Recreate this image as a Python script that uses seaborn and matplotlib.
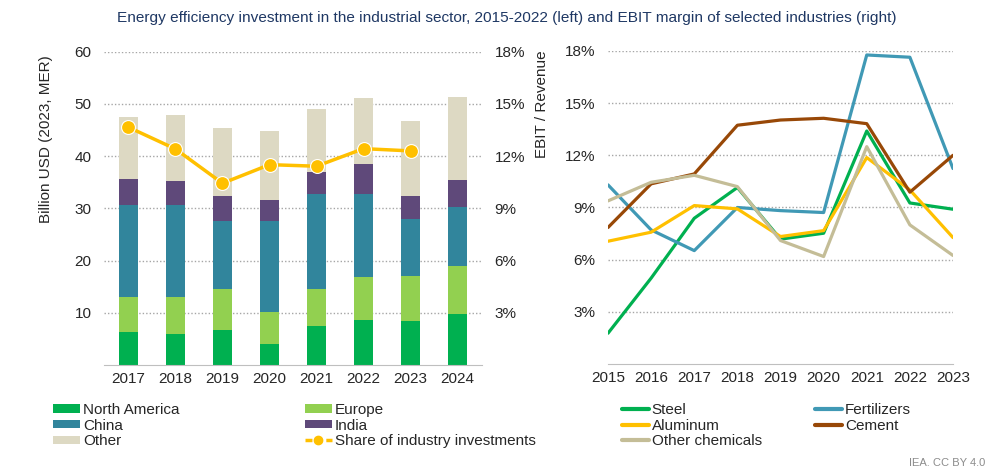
#Import Libraries
import numpy as np
import pandas as pd
import seaborn as sb
import matplotlib
matplotlib.use("Agg")
import matplotlib.pyplot as plt
from matplotlib.patches import Patch
from matplotlib.lines import Line2D
from matplotlib.ticker import FuncFormatter

#Data - left chart (billion USD, 2023 MER)
years = [2017, 2018, 2019, 2020, 2021, 2022, 2023, 2024]
northAmerica = [6.3, 6.0, 6.7, 4.1, 7.4, 8.6, 8.4, 9.7]
europe = [6.7, 7.0, 7.9, 6.1, 7.1, 8.3, 8.6, 9.3]
china = [17.6, 17.6, 13.0, 17.4, 18.3, 15.8, 11.0, 11.3]
india = [5.0, 4.7, 4.7, 4.0, 4.1, 5.7, 4.3, 5.1]
other = [11.9, 12.6, 13.0, 13.3, 12.2, 12.7, 14.5, 16.0]
shareYears = [2017, 2018, 2019, 2020, 2021, 2022, 2023]
shareIndustry = [13.66, 12.41, 10.44, 11.51, 11.42, 12.43, 12.30]

#Data - right chart (EBIT margin, %)
ebitYears = [2015, 2016, 2017, 2018, 2019, 2020, 2021, 2022, 2023]
steel = [1.77, 4.94, 8.38, 10.15, 7.18, 7.52, 13.4, 9.26, 8.9]
fertilizers = [10.3, 7.71, 6.52, 9.0, 8.82, 8.71, 17.77, 17.64, 11.24]
aluminum = [7.06, 7.58, 9.11, 8.92, 7.33, 7.67, 11.87, 10.01, 7.27]
cement = [7.85, 10.36, 10.93, 13.73, 14.03, 14.13, 13.82, 9.88, 12.0]
otherChemicals = [9.38, 10.45, 10.85, 10.2, 7.1, 6.18, 12.5, 8.0, 6.24]

#Colours
barColors = {"North America": "#00b050", "Europe": "#92d050", "China": "#31859c",
             "India": "#5f497a", "Other": "#ddd9c3"}
shareColor = "#ffc000"
lineColors = {"Steel": "#00b050", "Fertilizers": "#4099b5", "Aluminum": "#ffc000",
              "Cement": "#984807", "Other chemicals": "#c4bd97"}

sb.set_style("white")
plt.rcParams["font.family"] = ["Liberation Sans", "DejaVu Sans"]
plt.rcParams["font.size"] = 11
gridColor = "#a6a6a6"

fig = plt.figure(figsize=(10.04, 4.76), dpi=100)

#Left chart - stacked bars (drawn as cumulative totals, biggest first)
ax = fig.add_axes([0.1036, 0.2332, 0.3765, 0.6582])
segments = [("North America", northAmerica), ("Europe", europe), ("China", china),
            ("India", india), ("Other", other)]
cumulative = np.cumsum([s[1] for s in segments], axis=0)
for i in range(len(segments) - 1, -1, -1):
    sb.barplot(x=years, y=cumulative[i], color=barColors[segments[i][0]], width=0.4,
               native_scale=True, errorbar=None, saturation=1, linewidth=0, ax=ax)

ax.set_xlim(2016.48, 2024.52)
ax.set_ylim(0, 60)
ax.set_xticks(years)
ax.set_xticklabels([str(y) for y in years])
ax.set_yticks([10, 20, 30, 40, 50, 60])
ax.yaxis.grid(True, linestyle=(0, (1, 1.5)), color=gridColor, linewidth=1)
ax.set_axisbelow(True)
for side in ["top", "left", "right"]:
    ax.spines[side].set_visible(False)
ax.spines["bottom"].set_color("#bfbfbf")
ax.tick_params(axis="both", length=0)
ax.tick_params(axis="y", pad=9)
ax.tick_params(axis="x", pad=5)
ax.set_ylabel("Billion USD (2023, MER)", fontsize=11)
ax.yaxis.set_label_coords(-0.135, 0.72)

#Share of industry investments on the right axis
ax2 = ax.twinx()
sb.lineplot(x=shareYears, y=shareIndustry, color=shareColor, linewidth=2.5, marker="o",
            markersize=10, markeredgecolor="white", markeredgewidth=0.8, ax=ax2)
ax2.set_ylim(0, 18)
ax2.set_yticks([3, 6, 9, 12, 15, 18])
ax2.yaxis.set_major_formatter(FuncFormatter(lambda v, p: f"{v:.0f}%"))
ax2.tick_params(axis="y", length=0, pad=9)
for side in ["top", "left", "right", "bottom"]:
    ax2.spines[side].set_visible(False)

#Right chart - EBIT margins
ax3 = fig.add_axes([0.6056, 0.2353, 0.3436, 0.6576])
ebit = pd.DataFrame({
    "Year": ebitYears * 5,
    "Margin": steel + fertilizers + aluminum + cement + otherChemicals,
    "Industry": (["Steel"] * 9 + ["Fertilizers"] * 9 + ["Aluminum"] * 9
                 + ["Cement"] * 9 + ["Other chemicals"] * 9),
})
sb.lineplot(data=ebit, x="Year", y="Margin", hue="Industry", palette=lineColors,
            hue_order=["Steel", "Fertilizers", "Aluminum", "Cement", "Other chemicals"],
            linewidth=2.3, legend=False, ax=ax3)
ax3.set_xlim(2015, 2023)
ax3.set_ylim(0, 18)
ax3.set_xticks(ebitYears)
ax3.set_yticks([3, 6, 9, 12, 15, 18])
ax3.yaxis.set_major_formatter(FuncFormatter(lambda v, p: f"{v:.0f}%"))
ax3.yaxis.grid(True, linestyle=(0, (1, 1.5)), color=gridColor, linewidth=1)
ax3.set_axisbelow(True)
for side in ["top", "left", "right"]:
    ax3.spines[side].set_visible(False)
ax3.spines["bottom"].set_color("#bfbfbf")
ax3.tick_params(axis="both", length=0)
ax3.tick_params(axis="y", pad=9)
ax3.tick_params(axis="x", pad=5)
ax3.set_xlabel("")
ax3.set_ylabel("EBIT / Revenue", fontsize=11)
ax3.yaxis.set_label_coords(-0.171, 0.83)

#Legends
legendKw = dict(loc="upper left", frameon=False, fontsize=11, borderaxespad=0, borderpad=0,
                handlelength=1.75, handleheight=0.45, handletextpad=0.2, labelspacing=0.1)

def patches(names):
    return [Patch(facecolor=barColors[n], edgecolor="none", label=n) for n in names]

def lines(names):
    return [Line2D([0], [0], color=lineColors[n], linewidth=3, label=n) for n in names]

legendTop = 1 - 403 / 476
fig.legend(handles=patches(["North America", "China", "Other"]),
           bbox_to_anchor=(53 / 1004, legendTop), **legendKw)
shareHandle = Line2D([0], [0], color=shareColor, linewidth=2.5, linestyle=(0, (2, 1)),
                     marker="o", markersize=6, label="Share of industry investments")
fig.legend(handles=patches(["Europe", "India"]) + [shareHandle],
           bbox_to_anchor=(305 / 1004, legendTop), **legendKw)
fig.legend(handles=lines(["Steel", "Aluminum", "Other chemicals"]),
           bbox_to_anchor=(622 / 1004, legendTop), **legendKw)
fig.legend(handles=lines(["Fertilizers", "Cement"]),
           bbox_to_anchor=(815 / 1004, legendTop), **legendKw)

#Title and source
fig.text(0.505, 0.962, "Energy efficiency investment in the industrial sector, 2015-2022 (left) "
         "and EBIT margin of selected industries (right)", ha="center", va="center",
         fontsize=11.1, color="#1f3864")
fig.text(0.981, 0.027, "IEA. CC BY 4.0", ha="right", va="center", fontsize=8, color="#8c8c8c")

plt.savefig("out.png", dpi=100)
